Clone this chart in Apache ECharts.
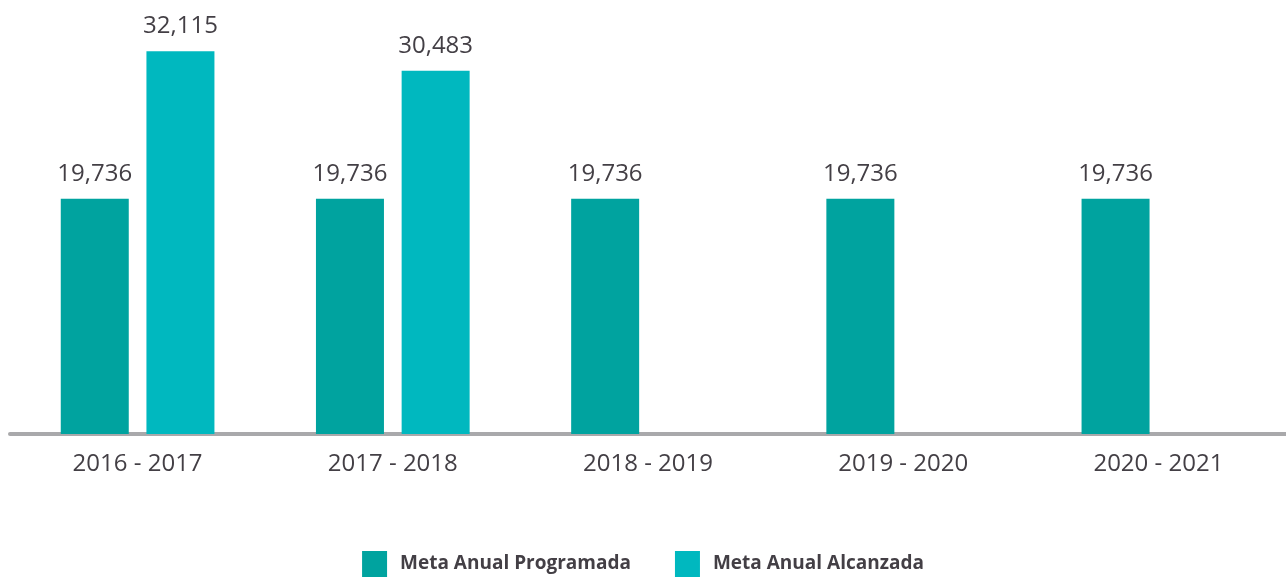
<!DOCTYPE html>
<html>
<head>
<meta charset="utf-8">
<script src="https://cdn.jsdelivr.net/npm/echarts@6/dist/echarts.min.js"></script>
<style>
  html, body { margin: 0; padding: 0; background: #fff; }
  #chart { width: 1286px; height: 578px; }
</style>
</head>
<body>
<div id="chart"></div>
<script>
// datos del gráfico
const periodos = ['2016 - 2017', '2017 - 2018', '2018 - 2019', '2019 - 2020', '2020 - 2021'];
const metaProgramada = [19736, 19736, 19736, 19736, 19736];
const metaAlcanzada = [32115, 30483, null, null, null];

const textColor = '#433f45';
const fmt = p => p.value == null ? '' : Number(p.value).toLocaleString('en-US');

const myChart = echarts.init(document.getElementById('chart'));
const option = {
  animation: false,
  textStyle: { fontFamily: 'Open Sans' },
  grid: { left: 10, right: 0, top: 17, bottom: 144 },
  legend: {
    bottom: -4,
    left: 'center',
    itemWidth: 25,
    itemHeight: 26,
    itemGap: 44,
    icon: 'rect',
    textStyle: { color: textColor, fontSize: 19, fontWeight: 'bold', padding: [0, 0, 0, 8] },
    data: ['Meta Anual Programada', 'Meta Anual Alcanzada']
  },
  xAxis: {
    type: 'category',
    data: periodos,
    axisLine: { lineStyle: { color: '#a9a9ab', width: 4 } },
    axisTick: { show: false },
    axisLabel: { color: textColor, fontSize: 24, margin: 18 }
  },
  yAxis: {
    type: 'value',
    min: 0,
    max: 35000,
    show: false,
    splitLine: { show: false }
  },
  series: [
    {
      name: 'Meta Anual Programada',
      type: 'bar',
      data: metaProgramada,
      barWidth: 68,
      barGap: '26%',
      itemStyle: { color: '#00a39f' },
      label: { show: true, position: 'top', distance: 13, color: textColor, fontSize: 24, formatter: fmt }
    },
    {
      name: 'Meta Anual Alcanzada',
      type: 'bar',
      data: metaAlcanzada,
      barWidth: 68,
      itemStyle: { color: '#00b8bf' },
      label: { show: true, position: 'top', distance: 13, color: textColor, fontSize: 24, formatter: fmt }
    }
  ]
};
myChart.setOption(option);
</script>
</body>
</html>
